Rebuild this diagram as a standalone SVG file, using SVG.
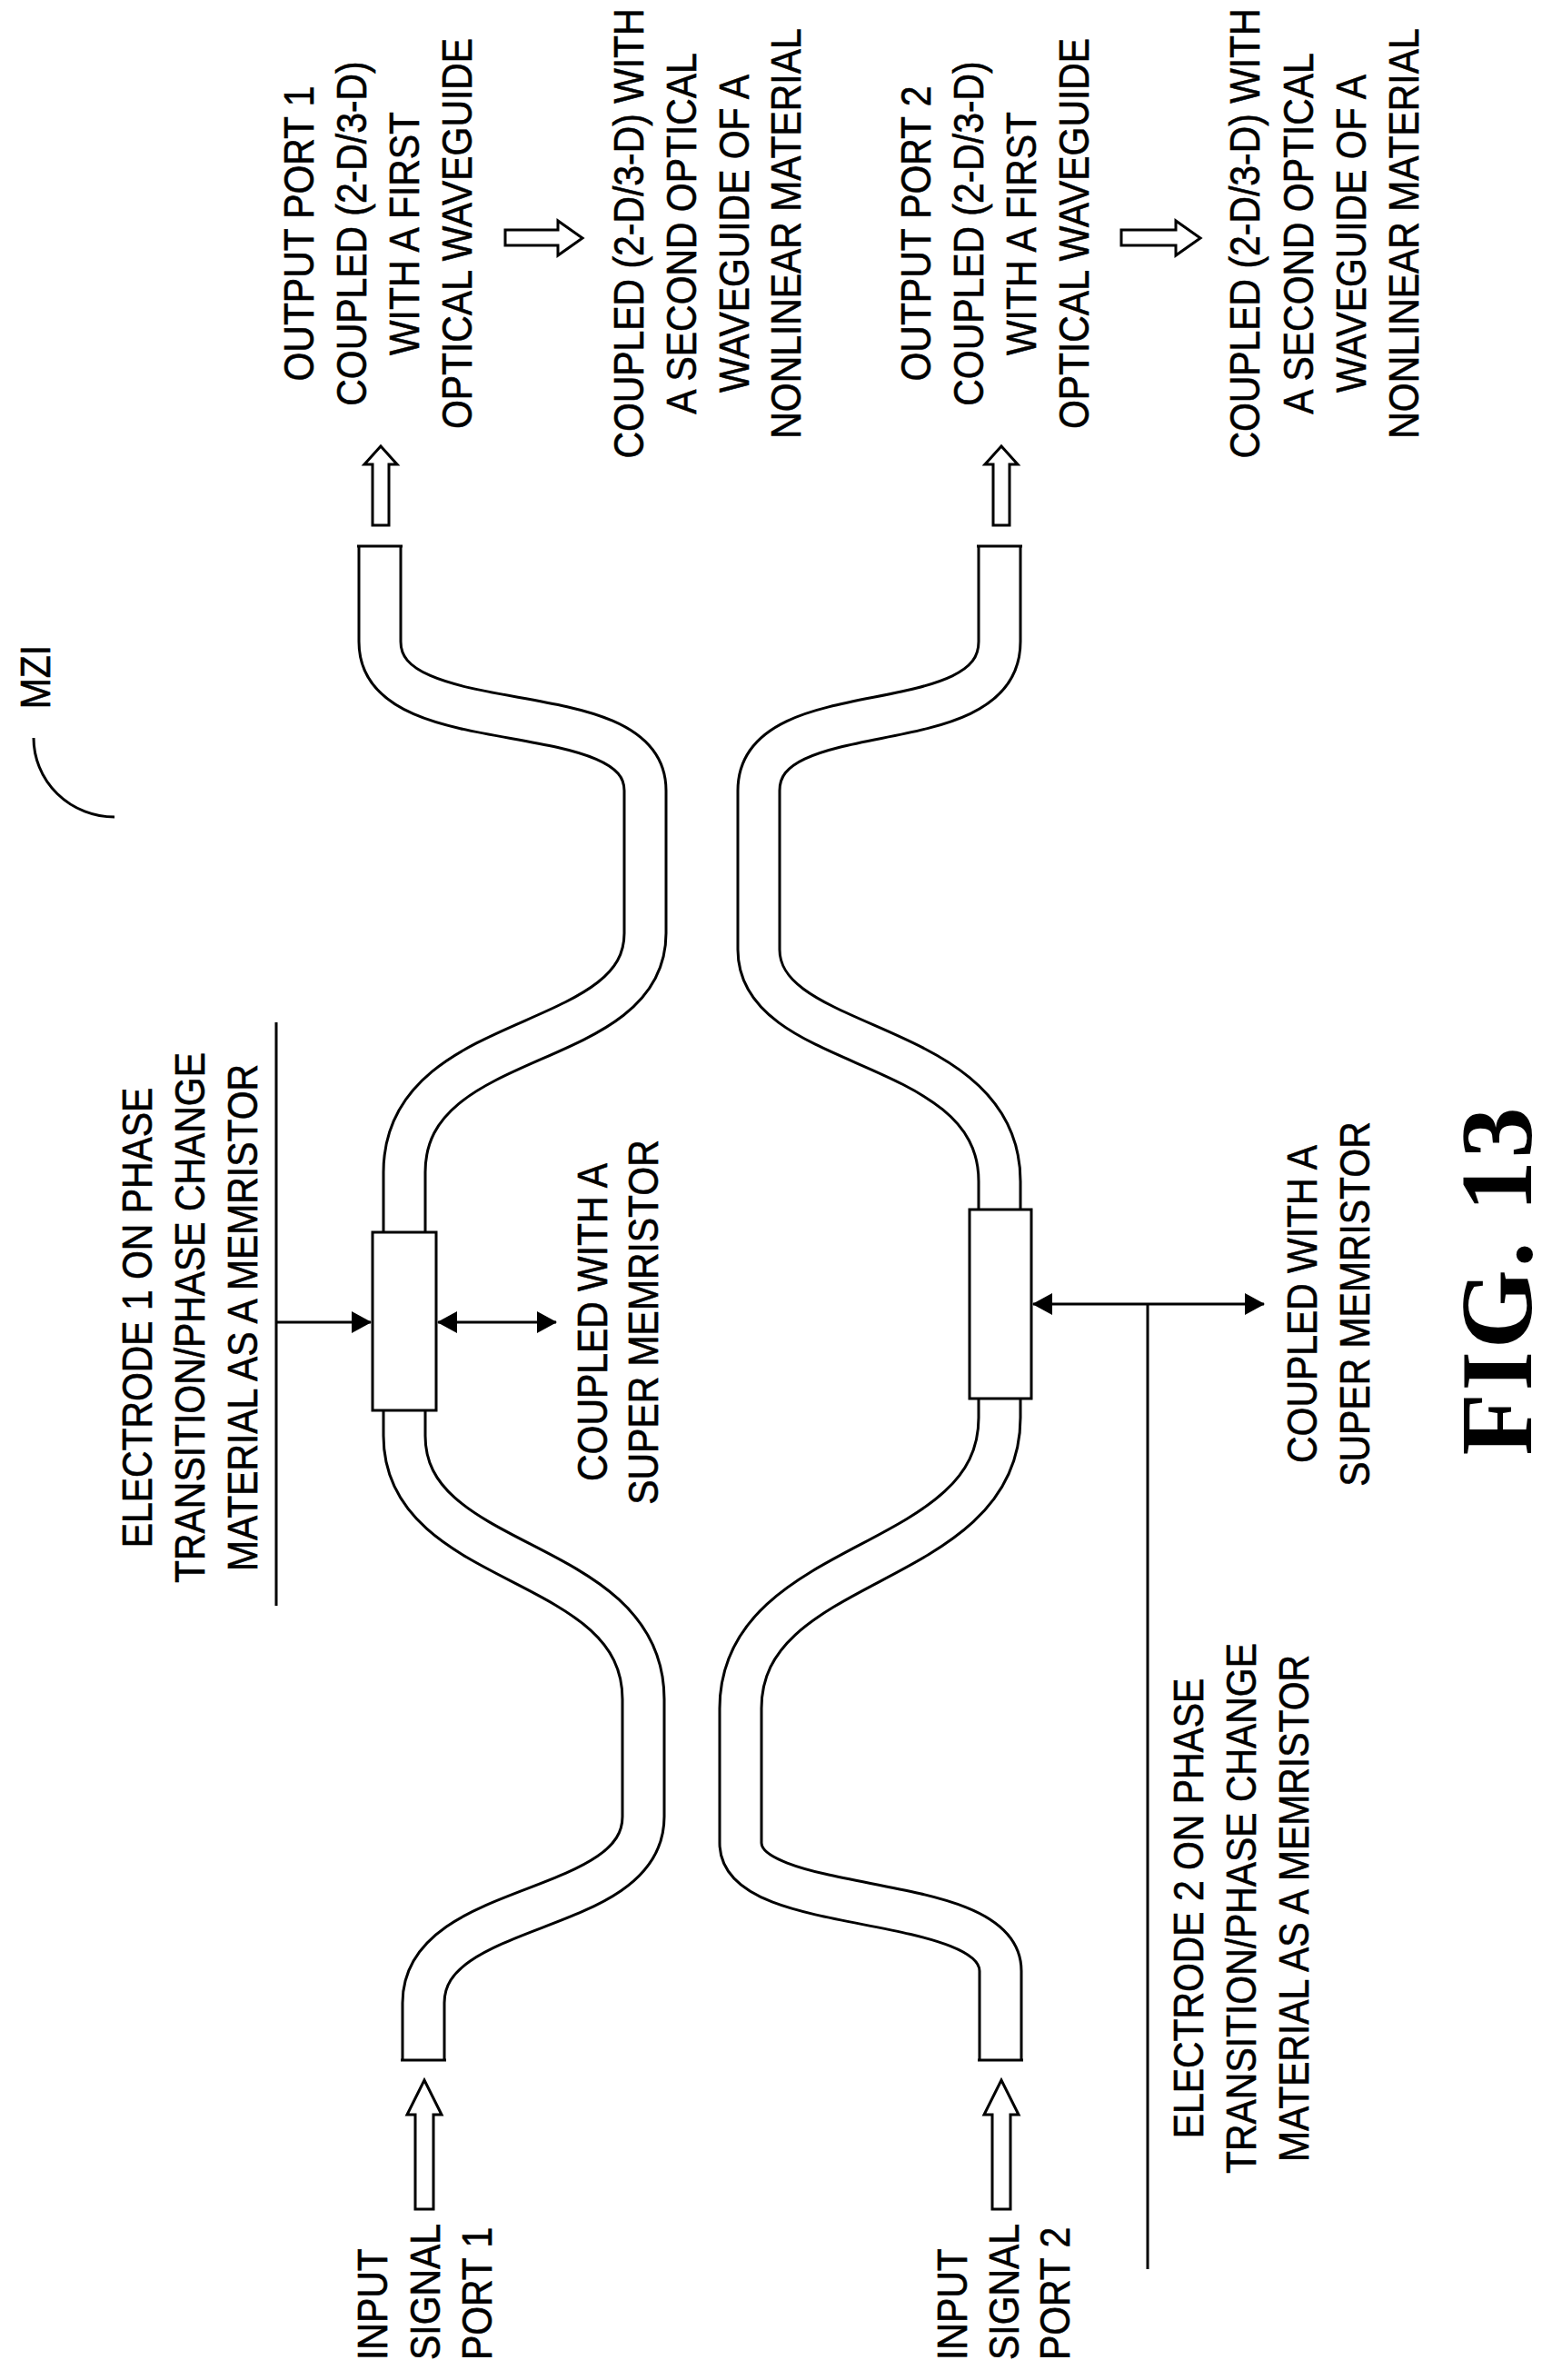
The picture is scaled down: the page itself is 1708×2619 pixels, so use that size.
<svg xmlns="http://www.w3.org/2000/svg" width="1708" height="2619" viewBox="0 0 1708 2619">
<style>
.t{font-family:"Liberation Sans",Arial,sans-serif;font-size:47px;fill:#000;stroke:#000;stroke-width:0.6}
.ln{stroke:#000;stroke-width:3;fill:none}
.ha{fill:#fff;stroke:#000;stroke-width:3}
.wo{fill:none;stroke:#000;stroke-width:49}
.wi{fill:none;stroke:#fff;stroke-width:43}
</style>
<defs>
<marker id="ah" markerWidth="22" markerHeight="24" refX="21" refY="12" orient="auto-start-reverse" markerUnits="userSpaceOnUse" viewBox="0 0 22 24"><path d="M0,0 L22,12 L0,24 z" fill="#000"/></marker>
</defs>
<rect width="1708" height="2619" fill="#fff"/>
<g id="waveguide1">
<path class="wo" d="M418,601 V706 C418,820 710,760 710,870 V1027 C710,1160 445,1130 445,1290 V1580 C445,1730 708,1710 708,1870 V1999 C708,2110 466,2090 466,2204 V2267"/>
<path class="wi" d="M418,601 V706 C418,820 710,760 710,870 V1027 C710,1160 445,1130 445,1290 V1580 C445,1730 708,1710 708,1870 V1999 C708,2110 466,2090 466,2204 V2267"/>
<line class="ln" x1="393" y1="601" x2="443" y2="601"/>
<line class="ln" x1="441" y1="2267" x2="491" y2="2267"/>
</g>
<g id="waveguide2">
<path class="wo" d="M1100,601 V706 C1100,820 835,760 835,870 V1045 C835,1160 1100,1140 1100,1300 V1560 C1100,1730 815,1710 815,1880 V2028 C815,2110 1101,2080 1101,2169 V2267"/>
<path class="wi" d="M1100,601 V706 C1100,820 835,760 835,870 V1045 C835,1160 1100,1140 1100,1300 V1560 C1100,1730 815,1710 815,1880 V2028 C815,2110 1101,2080 1101,2169 V2267"/>
<line class="ln" x1="1075" y1="601" x2="1125" y2="601"/>
<line class="ln" x1="1076" y1="2267" x2="1126" y2="2267"/>
</g>
<g id="electrode1"><rect x="410" y="1356" width="70" height="196" fill="#fff" stroke="#000" stroke-width="3"/></g>
<g id="electrode2"><rect x="1067" y="1331" width="68" height="208" fill="#fff" stroke="#000" stroke-width="3"/></g>
<g id="connectors">
<line class="ln" x1="304" y1="1125" x2="304" y2="1767"/>
<line class="ln" x1="304" y1="1455" x2="408" y2="1455" marker-end="url(#ah)"/>
<line class="ln" x1="482" y1="1455" x2="612" y2="1455" marker-start="url(#ah)" marker-end="url(#ah)"/>
<line class="ln" x1="1137" y1="1435" x2="1391" y2="1435" marker-start="url(#ah)" marker-end="url(#ah)"/>
<line class="ln" x1="1263" y1="1435" x2="1263" y2="2497"/>
<polygon class="ha" points="457,2431 477,2431 477,2327 486,2327 467,2289 448,2327 457,2327"/>
<polygon class="ha" points="1092,2431 1112,2431 1112,2327 1121,2327 1102,2289 1083,2327 1092,2327"/>
<polygon class="ha" points="410,578 428,578 428,511 437,511 419,491 401,511 410,511"/>
<polygon class="ha" points="1093,578 1111,578 1111,511 1120,511 1102,491 1084,511 1093,511"/>
<polygon class="ha" points="556,253 614,253 614,243 641,262 614,281 614,270 556,270"/>
<polygon class="ha" points="1234,253 1294,253 1294,243 1321,262 1294,281 1294,270 1234,270"/>
<path class="ln" d="M37,812 A89,87 0 0 0 126,899"/>
</g>
<g id="labels">
<text class="t" transform="translate(426,2597) rotate(-90) scale(0.87,1)"><tspan x="0">INPUT</tspan><tspan x="0" dy="58">SIGNAL</tspan><tspan x="0" dy="57">PORT 1</tspan></text>
<text class="t" transform="translate(1064,2597) rotate(-90) scale(0.87,1)"><tspan x="0">INPUT</tspan><tspan x="0" dy="57">SIGNAL</tspan><tspan x="0" dy="56">PORT 2</tspan></text>
<text class="t" text-anchor="middle" transform="translate(345,257) rotate(-90) scale(0.87,1)"><tspan x="0">OUTPUT PORT 1</tspan><tspan x="0" dy="58">COUPLED (2-D/3-D)</tspan><tspan x="0" dy="58">WITH A FIRST</tspan><tspan x="0" dy="58">OPTICAL WAVEGUIDE</tspan></text>
<text class="t" text-anchor="middle" transform="translate(708,257) rotate(-90) scale(0.87,1)"><tspan x="0">COUPLED (2-D/3-D) WITH</tspan><tspan x="0" dy="58">A SECOND OPTICAL</tspan><tspan x="0" dy="58">WAVEGUIDE OF A</tspan><tspan x="0" dy="57">NONLINEAR MATERIAL</tspan></text>
<text class="t" text-anchor="middle" transform="translate(1024,257) rotate(-90) scale(0.87,1)"><tspan x="0">OUTPUT PORT 2</tspan><tspan x="0" dy="58">COUPLED (2-D/3-D)</tspan><tspan x="0" dy="58">WITH A FIRST</tspan><tspan x="0" dy="58">OPTICAL WAVEGUIDE</tspan></text>
<text class="t" text-anchor="middle" transform="translate(1386,257) rotate(-90) scale(0.87,1)"><tspan x="0">COUPLED (2-D/3-D) WITH</tspan><tspan x="0" dy="59">A SECOND OPTICAL</tspan><tspan x="0" dy="58">WAVEGUIDE OF A</tspan><tspan x="0" dy="58">NONLINEAR MATERIAL</tspan></text>
<text class="t" text-anchor="middle" transform="translate(167,1450) rotate(-90) scale(0.87,1)"><tspan x="0">ELECTRODE 1 ON PHASE</tspan><tspan x="0" dy="58">TRANSITION/PHASE CHANGE</tspan><tspan x="0" dy="58">MATERIAL AS A MEMRISTOR</tspan></text>
<text class="t" text-anchor="middle" transform="translate(1324,2100) rotate(-90) scale(0.87,1)"><tspan x="0">ELECTRODE 2 ON PHASE</tspan><tspan x="0" dy="58">TRANSITION/PHASE CHANGE</tspan><tspan x="0" dy="58">MATERIAL AS A MEMRISTOR</tspan></text>
<text class="t" text-anchor="middle" transform="translate(668,1455) rotate(-90) scale(0.87,1)"><tspan x="0">COUPLED WITH A</tspan><tspan x="0" dy="56">SUPER MEMRISTOR</tspan></text>
<text class="t" text-anchor="middle" transform="translate(1449,1435) rotate(-90) scale(0.87,1)"><tspan x="0">COUPLED WITH A</tspan><tspan x="0" dy="58">SUPER MEMRISTOR</tspan></text>
<text class="t" text-anchor="middle" transform="translate(55,745) rotate(-90) scale(0.87,1)">MZI</text>
<text text-anchor="middle" transform="translate(1685,1410) rotate(-90)" font-family="'Liberation Serif','Times New Roman',serif" font-weight="bold" font-size="112" textLength="383" lengthAdjust="spacing">FIG. 13</text>
</g>
</svg>
